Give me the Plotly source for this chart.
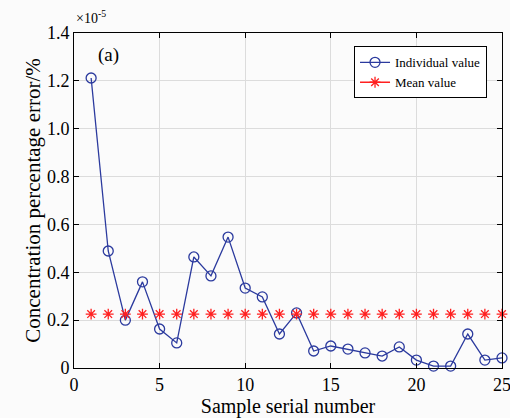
import plotly.graph_objects as go

samples = list(range(1, 26))
individual = [1.212, 0.489, 0.200, 0.360, 0.163, 0.105, 0.464, 0.385, 0.547, 0.334,
              0.297, 0.142, 0.230, 0.071, 0.092, 0.079, 0.063, 0.050, 0.088, 0.033,
              0.008, 0.008, 0.142, 0.033, 0.042]
mean_value = sum(individual) / len(individual)
mean_series = [mean_value] * len(samples)
y_ticks = [0, 0.2, 0.4, 0.6, 0.8, 1.0, 1.2, 1.4]
y_ticktext = ["0", "0.2", "0.4", "0.6", "0.8", "1.0", "1.2", "1.4"]
x_ticks = [0, 5, 10, 15, 20, 25]

blue = "#2b3a9e"
red = "#ff2020"
font = "Liberation Serif"

fig = go.Figure()
fig.add_trace(go.Scatter(
    x=samples, y=individual, mode="lines+markers", name="Individual value",
    line=dict(color=blue, width=1.3),
    marker=dict(symbol="circle-open", size=10, color=blue, line=dict(width=1.3)),
    cliponaxis=False,
))
fig.add_trace(go.Scatter(
    x=samples, y=mean_series, mode="markers", name="Mean value", showlegend=False,
    marker=dict(symbol="asterisk-open", size=9, color=red, line=dict(width=1.3, color=red)),
    cliponaxis=False,
))
fig.add_trace(go.Scatter(
    x=[None], y=[None], mode="lines+markers", name="Mean value",
    line=dict(color=red, width=1.3),
    marker=dict(symbol="asterisk-open", size=9, color=red, line=dict(width=1.3, color=red)),
))

axis_common = dict(
    showline=True, linecolor="black", linewidth=1, mirror="ticks",
    ticks="inside", ticklen=5, tickcolor="black",
    showgrid=True, gridcolor="#dcdcdc", gridwidth=1, zeroline=False,
    automargin=False, ticklabeloverflow="allow",
    tickfont=dict(family=font, size=18, color="black"),
)

fig.update_xaxes(range=[0, 25], tickvals=x_ticks,
                 title=dict(text="Sample serial number", font=dict(family=font, size=20, color="black"), standoff=0),
                 **axis_common)
fig.update_yaxes(range=[0, 1.4], tickvals=y_ticks, ticktext=y_ticktext,
                 ticksuffix="\u2009\u2009",
                 title=dict(text="Concentration percentage error/%", font=dict(family=font, size=21, color="black"), standoff=0),
                 **axis_common)

fig.add_annotation(x=0, y=1.0, xref="paper", yref="paper", xanchor="left", yanchor="bottom",
                   text="×10<sup>-5</sup>", showarrow=False, yshift=5, xshift=0,
                   font=dict(family=font, size=14, color="black"))
fig.add_annotation(x=1.3, y=1.31, xref="x", yref="y", xanchor="left", yanchor="middle",
                   text="(a)", showarrow=False,
                   font=dict(family=font, size=19, color="black"))

fig.update_layout(
    width=510, height=418,
    font=dict(family=font, color="black"),
    margin=dict(l=74, r=8, t=33, b=50),
    paper_bgcolor="#fbfbfb", plot_bgcolor="#fbfbfb",
    showlegend=True,
    legend=dict(x=0.965, y=0.96, xanchor="right", yanchor="top",
                bgcolor="white", bordercolor="black", borderwidth=1,
                font=dict(family=font, size=13, color="black"),
                tracegroupgap=0),
)

fig.write_html("out.html", config={"displayModeBar": False},
               post_script="document.body.style.margin='0';")
